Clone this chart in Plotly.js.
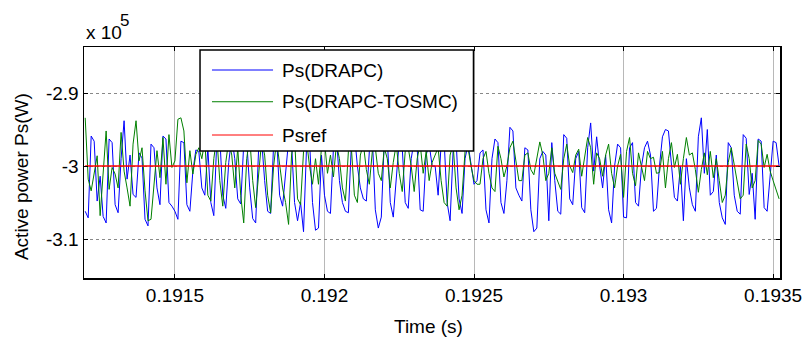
<!DOCTYPE html>
<html>
<head>
<meta charset="utf-8">
<script src="https://cdn.plot.ly/plotly-3.0.1.min.js"></script>
<style>html,body{margin:0;padding:0;background:#fff;}#chart{width:806px;height:338px;}</style>
</head>
<body>
<div id="chart"></div>
<script>
// Sampled signals (units of 1e5 W), sample interval 1e-5 s starting at t = 0.19120 s
const startTime = 0.19120;
const sampleTime = 1e-5;

const psDRAPC = [
-3.062,-3.071,-2.959,-2.966,-3.048,-3.014,-3.069,-3.078,-2.963,-2.968,
-3.053,-3.064,-2.990,-2.938,-3.018,-2.985,-3.039,-3.043,-2.982,-2.989,
-3.073,-3.082,-2.970,-2.975,-3.030,-3.053,-2.959,-2.963,-3.050,-3.055,
-3.062,-3.073,-2.966,-2.968,-3.053,-3.062,-3.007,-2.978,-2.980,
-3.030,-3.040,-2.975,-3.050,-3.068,-2.965,-2.960,-3.040,-3.058,-2.995,
-2.960,-2.990,-3.045,-3.052,-2.970,-2.965,-3.030,-3.072,-3.078,-2.975,
-2.965,-3.020,-3.062,-3.065,-2.970,-2.960,-3.040,-3.055,-3.010,-2.965,
-2.970,-3.050,-3.075,-3.050,-3.090,-2.975,-2.965,-3.050,-3.088,
-3.085,-2.985,-3.040,-3.062,-3.065,-2.975,-2.960,-3.020,-3.050,-3.062,
-3.064,-2.970,-2.955,-3.000,-3.030,-3.045,-3.048,-2.980,-2.960,-3.060,
-3.085,-3.070,-2.965,-2.960,-3.050,-3.070,-3.010,-2.965,-2.975,-3.050,
-3.058,-2.990,-2.965,-2.975,-3.060,-3.062,-2.985,-2.970,-3.000,
-3.000,-3.040,-2.970,-2.965,-3.050,-3.075,-2.980,-2.965,-3.045,-3.065,
-2.990,-2.970,-3.000,-3.025,-3.020,-2.982,-2.978,-3.060,-3.078,-2.990,
-2.963,-2.968,-3.050,-3.065,-3.020,-2.947,-2.952,-3.030,-3.040,-3.048,
-2.975,-2.978,-3.060,-3.090,-3.085,-2.990,-2.980,-2.985,-3.075,
-2.968,-3.020,-3.062,-3.066,-2.957,-2.962,-3.045,-3.053,-2.990,-2.980,
-3.057,-3.064,-2.975,-2.941,-3.007,-2.960,-3.000,-3.030,-2.985,-3.060,
-3.078,-3.000,-2.970,-2.975,-3.070,-3.071,-2.975,-2.968,-3.050,-3.055,
-3.000,-2.975,-2.966,-2.985,-3.062,-3.058,-3.000,-2.960,-2.950,
-2.952,-2.998,-3.043,-3.048,-3.000,-3.075,-2.990,-3.030,-3.053,-3.062,
-2.960,-2.934,-3.010,-2.950,-3.040,-3.035,-2.985,-3.050,-3.071,-3.080,
-2.968,-2.975,-3.040,-3.062,-3.066,-2.957,-2.962,-3.039,-3.010,-3.073,
-2.963,-2.966,-3.057,-3.062,-3.010,-2.966,-2.968,-3.000
];

const psTOSMC = [
-2.934,-3.018,-3.034,-3.007,-2.986,-3.068,-3.007,-2.952,-3.032,-3.002,
-3.011,-3.030,-2.954,-3.007,-3.030,-3.055,-2.970,-2.938,-2.993,-2.975,
-3.034,-3.075,-3.073,-3.021,-2.979,-3.016,-2.961,-3.025,-2.957,-3.002,
-2.993,-2.936,-2.934,-2.952,-3.023,-2.979,-3.011,-2.984,-2.975,
-2.990,-2.965,-3.040,-3.048,-2.990,-2.960,-3.020,-3.055,-2.995,-2.965,
-2.985,-3.030,-2.975,-3.040,-3.078,-2.990,-2.960,-3.020,-3.057,-3.010,
-2.965,-2.985,-3.040,-3.064,-3.000,-2.965,-2.995,-3.030,-3.050,-3.080,
-2.985,-2.960,-3.045,-3.053,-2.980,-2.965,-3.000,-3.025,-2.990,
-3.025,-2.975,-2.965,-3.010,-2.985,-3.015,-2.970,-2.990,-3.030,-3.048,
-2.980,-2.975,-3.040,-3.050,-2.985,-2.970,-3.005,-3.025,-2.980,-2.975,
-3.010,-3.020,-2.975,-2.990,-3.030,-2.995,-2.970,-3.010,-3.035,-2.980,
-2.975,-3.000,-3.035,-2.990,-2.970,-3.010,-2.980,-3.020,-2.995,
-2.985,-2.975,-3.020,-3.050,-3.055,-2.985,-2.970,-3.030,-3.060,-3.040,
-2.980,-2.975,-3.000,-3.020,-3.025,-3.025,-2.990,-2.980,-3.010,-3.030,
-3.035,-2.973,-2.990,-3.015,-3.000,-2.975,-2.966,-2.995,-3.020,-3.020,
-2.985,-2.982,-3.005,-3.012,-2.990,-2.967,-2.985,-3.020,-3.010,
-2.975,-3.010,-3.020,-3.032,-2.990,-2.970,-3.000,-3.009,-2.985,-2.977,
-3.014,-2.990,-2.961,-2.975,-3.025,-2.982,-2.990,-3.014,-2.985,-2.970,
-3.010,-3.030,-3.000,-2.984,-3.043,-2.980,-2.961,-3.010,-3.027,-2.982,
-3.000,-3.020,-2.980,-2.990,-2.988,-3.010,-3.009,-2.980,-3.030,
-2.990,-2.968,-3.002,-2.984,-3.025,-2.990,-2.961,-2.985,-2.982,-3.005,
-3.036,-3.005,-2.982,-3.012,-2.980,-3.016,-2.990,-3.020,-3.050,-3.040,
-2.995,-2.975,-3.000,-3.020,-3.045,-3.040,-2.970,-2.990,-3.030,-3.020,
-2.965,-2.970,-3.002,-2.984,-3.007,-3.020,-3.032,-3.045
];

const psrefTime = [0.19120, 0.19352];
const psref = [-3, -3];

const seriesNames = ['Ps(DRAPC)', 'Ps(DRAPC-TOSMC)', 'Psref'];
const xTickVals = [0.1915, 0.192, 0.1925, 0.193, 0.1935];
const xTickText = ['0.1915', '0.192', '0.1925', '0.193', '0.1935'];
const yTickVals = [-3.1, -3, -2.9];
const yTickText = ['-3.1', '-3', '-2.9'];

const time = psDRAPC.map((_, i) => startTime + i * sampleTime);

const FONT = 'Liberation Sans, Arial, Helvetica, sans-serif';
const colors = ['#0000ff', '#008000', '#ff0000'];

const traces = [
  {x: time, y: psDRAPC, type: 'scatter', mode: 'lines', name: seriesNames[0], line: {color: colors[0], width: 1}},
  {x: time, y: psTOSMC, type: 'scatter', mode: 'lines', name: seriesNames[1], line: {color: colors[1], width: 1}},
  {x: psrefTime, y: psref, type: 'scatter', mode: 'lines', name: seriesNames[2], line: {color: colors[2], width: 1.6}}
];

// manual MATLAB-like legend
const legX0 = 0.1667, legX1 = 0.5596, legY0 = 0.5498, legY1 = 0.987;
const rowY = [0.9004, 0.763, 0.619];
const shapes = [
  {type: 'rect', xref: 'paper', yref: 'paper', x0: legX0, x1: legX1, y0: legY0, y1: legY1,
   line: {color: '#000', width: 1.5}, fillcolor: '#fff', layer: 'above'}
];
const annotations = [];
seriesNames.forEach((n, k) => {
  shapes.push({type: 'line', xref: 'paper', yref: 'paper', x0: 0.1839, x1: 0.2716, y0: rowY[k], y1: rowY[k],
    line: {color: colors[k], width: 1}, layer: 'above'});
  annotations.push({xref: 'paper', yref: 'paper', x: 0.2816, y: rowY[k], xanchor: 'left', yanchor: 'middle',
    text: n, showarrow: false, font: {family: FONT, size: 19, color: '#000'}});
});
annotations.push({xref: 'paper', yref: 'paper', x: 0.4943, y: -0.2078, xanchor: 'center', yanchor: 'middle',
  text: 'Time (s)', showarrow: false, font: {family: FONT, size: 19, color: '#000'}});
annotations.push({xref: 'paper', yref: 'paper', x: -0.0905, y: 0.437, xanchor: 'center', yanchor: 'middle',
  text: 'Active power Ps(W)', textangle: -90, showarrow: false, font: {family: FONT, size: 19, color: '#000'}});
annotations.push({xref: 'paper', yref: 'paper', x: 0, y: 1.0649, xanchor: 'left', yanchor: 'middle',
  text: 'x 10', showarrow: false, font: {family: FONT, size: 19, color: '#000'}});
annotations.push({xref: 'paper', yref: 'paper', x: 0.0489, y: 1.1126, xanchor: 'left', yanchor: 'middle',
  text: '5', showarrow: false, font: {family: FONT, size: 17, color: '#000'}});

const layout = {
  width: 806, height: 338,
  margin: {l: 84, r: 26, t: 47, b: 60, pad: 0},
  paper_bgcolor: '#fff', plot_bgcolor: '#fff',
  showlegend: false,
  font: {family: FONT, size: 19, color: '#000'},
  xaxis: {
    range: [0.191196, 0.193523], tickvals: xTickVals, ticktext: xTickText,
    ticks: 'inside', ticklen: 4, tickcolor: '#000', tickwidth: 1,
    showline: true, linecolor: '#000', linewidth: 1.5, mirror: 'ticks',
    showgrid: true, gridcolor: '#b8b8b8', gridwidth: 1,
    zeroline: false, tickfont: {family: FONT, size: 19, color: '#000'}
  },
  yaxis: {
    range: [-3.1534, -2.837], tickvals: yTickVals, ticktext: yTickText,
    ticks: 'inside', ticklen: 4, tickcolor: '#000', tickwidth: 1,
    showline: true, linecolor: '#000', linewidth: 1.5, mirror: 'ticks',
    showgrid: true, gridcolor: '#888', gridwidth: 1, griddash: 'dot',
    zeroline: false, tickfont: {family: FONT, size: 19, color: '#000'}
  },
  shapes: shapes,
  annotations: annotations
};

Plotly.newPlot('chart', traces, layout, {staticPlot: true, displayModeBar: false});
</script>
</body>
</html>
